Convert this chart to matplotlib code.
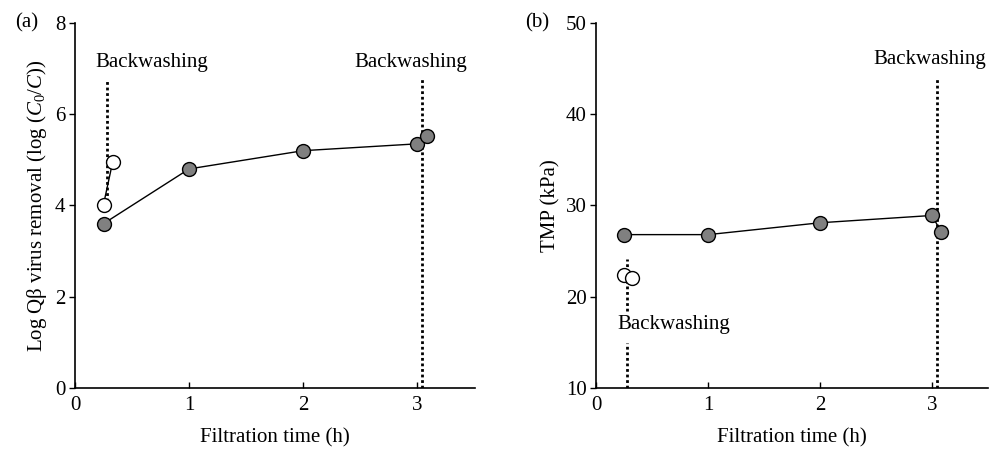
import matplotlib
matplotlib.use("Agg")
import matplotlib.pyplot as plt

plt.rcParams['font.family'] = ['Liberation Serif', 'DejaVu Serif']
plt.rcParams['mathtext.fontset'] = 'custom'
plt.rcParams['mathtext.rm'] = 'Liberation Serif'
plt.rcParams['mathtext.it'] = 'Liberation Serif:italic'

# Panel (a): log Qbeta removal
a_filled_t = [0.25, 1.0, 2.0, 3.0, 3.08]
a_filled_v = [3.6, 4.8, 5.2, 5.35, 5.52]
a_open_t = [0.25, 0.33]
a_open_v = [4.02, 4.95]

# Panel (b): TMP
b_filled_t = [0.25, 1.0, 2.0, 3.0, 3.08]
b_filled_v = [26.8, 26.8, 28.1, 28.9, 27.1]
b_open_t = [0.25, 0.32]
b_open_v = [22.4, 22.0]

x_ticks = [0, 1, 2, 3]
a_yticks = [0, 2, 4, 6, 8]
b_yticks = [10, 20, 30, 40, 50]
backwash_label = "Backwashing"

FS = 15
fig = plt.figure(figsize=(9.89, 4.49), dpi=100)
ax1 = fig.add_axes([0.0758, 0.136, 0.404, 0.813])
ax2 = fig.add_axes([0.603, 0.136, 0.396, 0.813])

def style(ax):
    for s in ['top', 'right']:
        ax.spines[s].set_visible(False)
    for s in ['left', 'bottom']:
        ax.spines[s].set_linewidth(1.2)
    ax.tick_params(axis='x', direction='in', length=4, width=1, labelsize=FS, pad=6)
    ax.tick_params(axis='y', direction='out', length=4, width=1, labelsize=FS, pad=3)
    ax.set_xlim(0, 3.5)
    ax.set_xticks(x_ticks)
    ax.set_xlabel("Filtration time (h)", fontsize=FS, labelpad=9)

mk = dict(marker='o', markersize=10, markeredgecolor='black', markeredgewidth=1.0)

# (a)
style(ax1)
ax1.set_ylim(0, 8)
ax1.set_yticks(a_yticks)
ax1.plot([0.28, 0.28], [4.1, 6.78], ls=(0, (1, 1)), color='black', lw=2, zorder=1)
ax1.plot([3.04, 3.04], [0, 6.78], ls=(0, (1, 1)), color='black', lw=2, zorder=1)
ax1.plot(a_filled_t, a_filled_v, color='black', lw=1, markerfacecolor='#808080', zorder=3, **mk)
ax1.plot(a_open_t, a_open_v, color='black', lw=1, markerfacecolor='white', zorder=3, **mk)
ax1.text(0.67, 7.13, backwash_label, ha='center', va='center', fontsize=FS)
ax1.text(2.94, 7.13, backwash_label, ha='center', va='center', fontsize=FS)
ax1.set_ylabel("Log Qβ virus removal (log ($C_0$/$C$))", fontsize=FS, labelpad=4)
fig.text(0.027, 0.949, "(a)", ha='center', va='center', fontsize=FS)

# (b)
style(ax2)
ax2.set_ylim(10, 50)
ax2.set_yticks(b_yticks)
ax2.plot([0.27, 0.27], [18.4, 24.1], ls=(0, (1, 1)), color='black', lw=2, zorder=1)
ax2.plot([0.27, 0.27], [10, 14.9], ls=(0, (1, 1)), color='black', lw=2, zorder=1)
ax2.plot([3.04, 3.04], [10, 43.8], ls=(0, (1, 1)), color='black', lw=2, zorder=1)
ax2.plot(b_filled_t, b_filled_v, color='black', lw=1, markerfacecolor='#808080', zorder=3, **mk)
ax2.plot(b_open_t, b_open_v, ls='none', markerfacecolor='white', zorder=3, **mk)
ax2.text(0.69, 16.9, backwash_label, ha='center', va='center', fontsize=FS)
ax2.text(2.98, 46.0, backwash_label, ha='center', va='center', fontsize=FS)
ax2.set_ylabel("TMP (kPa)", fontsize=FS, labelpad=4)
fig.text(0.543, 0.949, "(b)", ha='center', va='center', fontsize=FS)

fig.savefig("out.png", dpi=100)
